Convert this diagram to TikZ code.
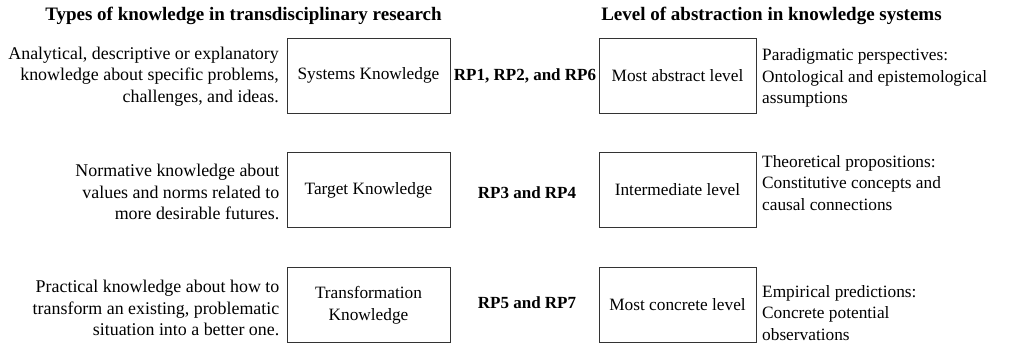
\documentclass[tikz,border=0pt]{standalone}
\usepackage{fontspec}
\setmainfont{Liberation Serif}
\begin{document}
\begin{tikzpicture}[x=1pt,y=-1pt,
  every node/.style={font=\fontsize{17.3}{21.6}\selectfont, inner sep=0pt},
  kbox/.style={draw=black!80, line width=1pt, minimum height=75pt, align=center},
  leftbox/.style={kbox, minimum width=163pt},
  rightbox/.style={kbox, minimum width=157pt},
  desc/.style={anchor=east, align=right, font=\fontsize{17.9}{21.6}\selectfont},
  rdesc/.style={anchor=west, align=left},
  rplabel/.style={font=\fontsize{17}{21.6}\selectfont\bfseries},
  heading/.style={font=\fontsize{19}{23}\selectfont\bfseries}]
\useasboundingbox (0,0) rectangle (1017,343);

% column headings
\node[heading] (hl) at (243.5,16) {Types of knowledge in transdisciplinary research};
\node[heading] (hr) at (771.5,16) {Level of abstraction in knowledge systems};

% knowledge types
\node[leftbox] (sk)  at (368.5,75.5) {Systems Knowledge};
\node[leftbox] (tk)  at (368.5,190)  {Target Knowledge};
\node[leftbox] (trk) at (368.5,305)  {Transformation\\Knowledge};

% abstraction levels
\node[rightbox] (abs)   at (677.5,75.5) {Most abstract level};
\node[rightbox] (inter) at (677.5,190)  {Intermediate level};
\node[rightbox] (conc)  at (677.5,305)  {Most concrete level};

% research propositions between the columns
\node[rplabel] (rpa) at (525,76)  {RP1, RP2, and RP6};
\node[rplabel] (rpb) at (527,193) {RP3 and RP4};
\node[rplabel] (rpc) at (527,303) {RP5 and RP7};

% descriptions of knowledge types
\node[desc] (dsk)  at (279,76.5) {Analytical, descriptive or explanatory\\knowledge about specific problems,\\challenges, and ideas.};
\node[desc] (dtk)  at (279.5,192)  {Normative knowledge about\\values and norms related to\\more desirable futures.};
\node[desc] (dtrk) at (279.5,308)  {Practical knowledge about how to\\transform an existing, problematic\\situation into a better one.};

% descriptions of abstraction levels
\node[rdesc] (dabs)   at (762,78)  {Paradigmatic perspectives:\\Ontological and epistemological\\assumptions};
\node[rdesc] (dinter) at (762,183) {Theoretical propositions:\\Constitutive concepts and\\causal connections};
\node[rdesc] (dconc)  at (762,313) {Empirical predictions:\\Concrete potential\\observations};
\end{tikzpicture}
\end{document}
